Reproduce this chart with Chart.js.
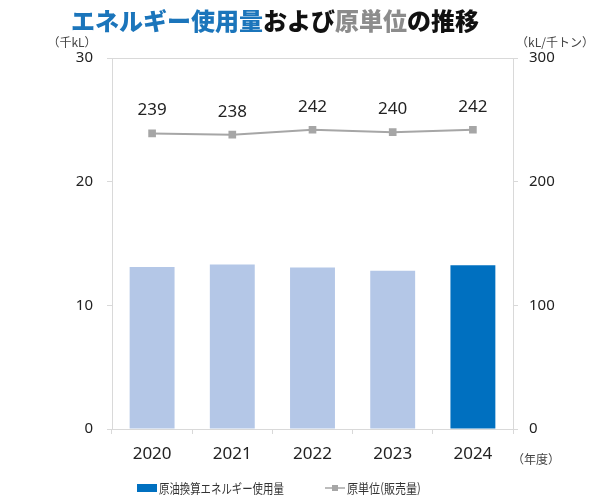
<!DOCTYPE html>
<html>
<head>
<meta charset="utf-8">
<script src="https://cdn.jsdelivr.net/npm/chart.js@4"></script>
<style>
  html, body { margin: 0; padding: 0; background: #fff; }
  #wrap { width: 600px; height: 500px; }
</style>
</head>
<body>
<div id="wrap"><canvas id="chart" width="600" height="500"></canvas></div>
<script>
// データ
const years = ['2020', '2021', '2022', '2023', '2024'];
const energyUse = [13.1, 13.3, 13.05, 12.8, 13.25];   // 千kL
const intensity = [239, 238, 242, 240, 242];         // kL/千トン
const leftTicks = [0, 10, 20, 30];
const rightTicks = [0, 100, 200, 300];

const FONT = "'Noto Sans', 'Noto Sans CJK JP', sans-serif";
const JP = "'Noto Sans CJK JP', sans-serif";
const BAR_LIGHT = '#b4c7e7';
const BAR_DARK = '#0070c0';
const LINE_GRAY = '#a6a6a6';
const AXIS_GRAY = '#d9d9d9';

// 横方向に縮めたテキスト
function squeezedText(ctx, text, x, y, sx) {
    ctx.save();
    ctx.translate(x, y);
    ctx.scale(sx, 1);
    ctx.fillText(text, 0, 0);
    ctx.restore();
}

// タイトル・単位・データラベル・凡例
const extras = {
    id: 'extras',
    afterDraw(chart) {
        const ctx = chart.ctx;
        ctx.save();
        // タイトル（色分け）
        const parts = [
            ['エネルギー使用量', '#1b75bb'],
            ['および', '#111'],
            ['原単位', '#8c8c8c'],
            ['の推移', '#111']
        ];
        ctx.font = "900 24px " + JP;
        ctx.textBaseline = 'middle';
        ctx.textAlign = 'left';
        let total = 0;
        parts.forEach(p => { total += ctx.measureText(p[0]).width; });
        let x = 275 - total / 2;
        parts.forEach(p => {
            ctx.fillStyle = p[1];
            ctx.fillText(p[0], x, 21);
            x += ctx.measureText(p[0]).width;
        });

        // 単位
        ctx.font = "12px " + JP;
        ctx.fillStyle = '#444';
        ctx.textAlign = 'center';
        ctx.fillText('（千kL）', 72, 42);
        ctx.fillText('（kL/千トン）', 555, 42);
        ctx.fillText('（年度）', 536, 459);

        // データラベル（原単位）
        const meta = chart.getDatasetMeta(1);
        ctx.font = "17px " + FONT;
        ctx.fillStyle = '#222';
        meta.data.forEach((pt, i) => {
            ctx.fillText(String(intensity[i]), pt.x, pt.y - 23);
        });

        // 凡例
        const ly = 488;
        ctx.font = "13px " + JP;
        ctx.textAlign = 'left';
        ctx.fillStyle = BAR_DARK;
        ctx.fillRect(137, ly - 4, 20, 8);
        ctx.fillStyle = '#333';
        squeezedText(ctx, chart.data.datasets[0].label, 159, ly, 0.8);
        ctx.strokeStyle = LINE_GRAY;
        ctx.lineWidth = 1.5;
        ctx.beginPath(); ctx.moveTo(325, ly); ctx.lineTo(345, ly); ctx.stroke();
        ctx.fillStyle = LINE_GRAY;
        ctx.fillRect(332, ly - 3, 6, 6);
        ctx.fillStyle = '#333';
        squeezedText(ctx, chart.data.datasets[1].label, 347, ly, 0.85);
        ctx.restore();
    }
};

const ctx = document.getElementById('chart').getContext('2d');
const chart = new Chart(ctx, {
    data: {
        labels: years,
        datasets: [{
            type: 'bar',
            label: '原油換算エネルギー使用量',
            data: energyUse,
            backgroundColor: years.map((y, i) => i === years.length - 1 ? BAR_DARK : BAR_LIGHT),
            categoryPercentage: 0.56,
            barPercentage: 1,
            yAxisID: 'y',
            order: 2
        }, {
            type: 'line',
            label: '原単位(販売量)',
            data: intensity,
            borderColor: LINE_GRAY,
            backgroundColor: LINE_GRAY,
            borderWidth: 2,
            pointStyle: 'rect',
            pointRadius: 4,
            pointHoverRadius: 4,
            tension: 0,
            yAxisID: 'y2',
            order: 1
        }]
    },
    options: {
        responsive: false,
        animation: false,
        layout: { padding: { top: 58, bottom: 31, left: 0, right: 0 } },
        plugins: {
            tooltip: { enabled: false },
            legend: { display: false }
        },
        scales: {
            x: {
                offset: true,
                grid: {
                    offset: true,
                    drawOnChartArea: false,
                    tickLength: 5,
                    tickColor: AXIS_GRAY
                },
                border: { color: AXIS_GRAY },
                ticks: { font: { family: FONT, size: 17 }, color: '#222', padding: 10 },
                afterFit(scale) { scale.height = 40; }
            },
            y: {
                position: 'left',
                min: 0, max: 30,
                afterBuildTicks(scale) { scale.ticks = leftTicks.map(v => ({ value: v })); },
                grid: {
                    color: c => (c.tick && c.tick.value === 30) ? AXIS_GRAY : 'transparent',
                    tickColor: AXIS_GRAY,
                    tickLength: 5
                },
                border: { color: AXIS_GRAY },
                ticks: { font: { family: FONT, size: 15 }, color: '#222', padding: 14 },
                afterFit(scale) { scale.width = 112; }
            },
            y2: {
                position: 'right',
                min: 0, max: 300,
                afterBuildTicks(scale) { scale.ticks = rightTicks.map(v => ({ value: v })); },
                grid: {
                    drawOnChartArea: false,
                    tickColor: AXIS_GRAY,
                    tickLength: 5
                },
                border: { color: AXIS_GRAY },
                ticks: { font: { family: FONT, size: 15 }, color: '#222', padding: 11 },
                afterFit(scale) { scale.width = 87; }
            }
        }
    },
    plugins: [extras]
});
</script>
</body>
</html>
